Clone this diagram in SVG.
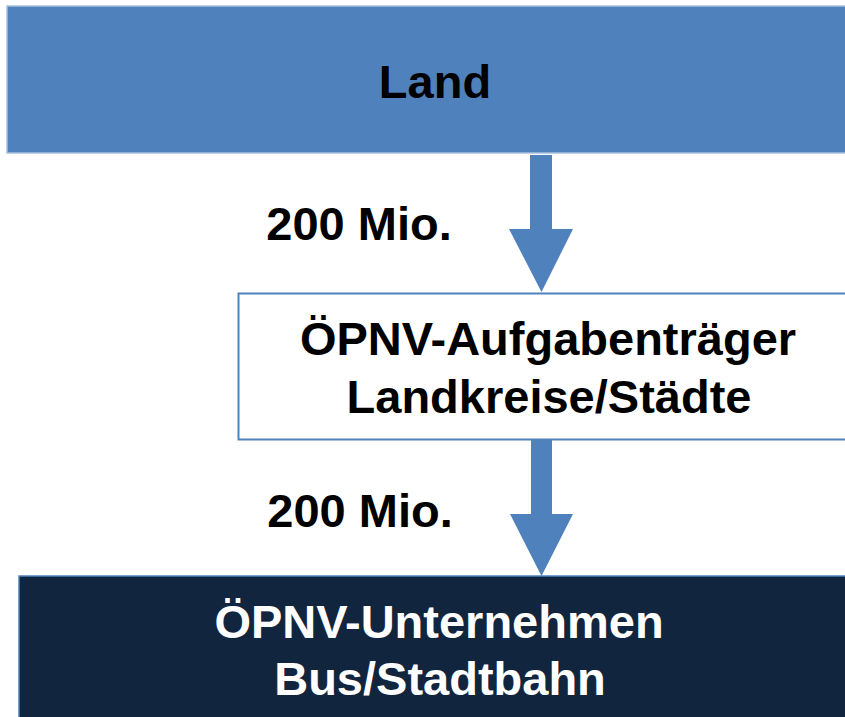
<svg xmlns="http://www.w3.org/2000/svg" width="845" height="717" viewBox="0 0 845 717">
<style>
text{font-family:"Liberation Sans",Arial,sans-serif;font-weight:bold;font-size:47px;text-anchor:middle}
.dark{fill:#000}
.light{fill:#fff}
.arrow{fill:#4F81BD}
</style>
<rect width="845" height="717" fill="#fff"/>
<g id="land">
<rect x="7" y="6" width="850" height="147" fill="#4F81BD" stroke="#A7C0DF" stroke-width="1.5"/>
<text x="435" y="98" class="dark">Land</text>
</g>
<g id="aufgabentraeger">
<rect x="238.5" y="293.5" width="620" height="146" fill="#fff" stroke="#4F81BD" stroke-width="2"/>
<text x="548" y="355" class="dark">ÖPNV-Aufgabenträger</text>
<text x="549" y="413" class="dark">Landkreise/Städte</text>
</g>
<g id="unternehmen">
<rect x="19" y="576" width="840" height="150" fill="#12253F" stroke="#4F81BD" stroke-width="1.5"/>
<text x="439" y="638" class="light">ÖPNV-Unternehmen</text>
<text x="440" y="695" class="light">Bus/Stadtbahn</text>
</g>
<g id="connectors">
<path class="arrow" d="M530,155 H552 V229 H573 L541.5,292 L509,229 H530 Z"/>
<text x="359" y="240" class="dark">200 Mio.</text>
<path class="arrow" d="M531,440 H552 V514 H573 L541.5,576 L510,514 H531 Z"/>
<text x="360" y="527" class="dark">200 Mio.</text>
</g>
</svg>
